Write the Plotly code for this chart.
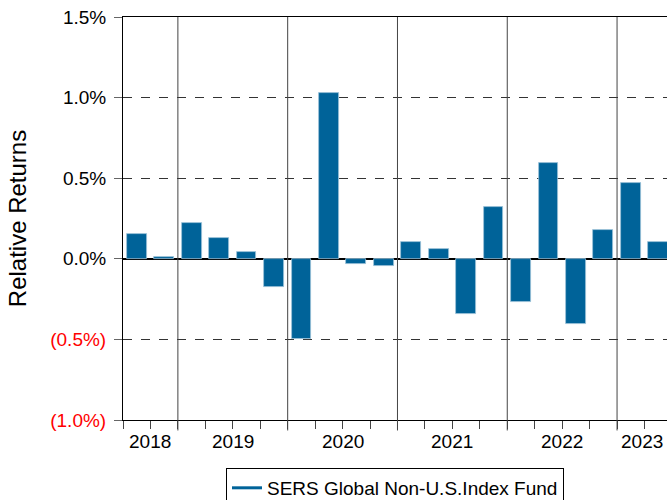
import plotly.graph_objects as go

# ---- data ----
quarters = ["2018Q3", "2018Q4",
            "2019Q1", "2019Q2", "2019Q3", "2019Q4",
            "2020Q1", "2020Q2", "2020Q3", "2020Q4",
            "2021Q1", "2021Q2", "2021Q3", "2021Q4",
            "2022Q1", "2022Q2", "2022Q3", "2022Q4",
            "2023Q1", "2023Q2"]
relative_returns = [0.151, 0.012,
                    0.223, 0.128, 0.042, -0.172,
                    -0.500, 1.030, -0.030, -0.045,
                    0.107, 0.060, -0.343, 0.320,
                    -0.267, 0.595, -0.405, 0.178,
                    0.473, 0.104]
series_name = "SERS Global Non-U.S.Index Fund"
y_tickvals = [-1.0, -0.5, 0.0, 0.5, 1.0, 1.5]
y_ticktext = ["(1.0%)", "(0.5%)", "0.0%", "0.5%", "1.0%", "1.5%"]

BLUE = "#006399"
FONT = "Liberation Sans, Arial, sans-serif"

x_pos = [i + 0.5 for i in range(len(quarters))]
x_max = 19.82

# year groups
years = []
for q in quarters:
    y = q[:4]
    if y not in years:
        years.append(y)
year_labels_x = []
for y in years:
    idx = [i for i, q in enumerate(quarters) if q.startswith(y)]
    lo = idx[0]
    hi = idx[-1] + 1
    if y == years[-1]:
        hi = x_max
    year_labels_x.append((lo + hi) / 2)
year_bounds = [i for i in range(1, len(quarters)) if quarters[i][:4] != quarters[i - 1][:4]]

fig = go.Figure()
fig.add_trace(go.Bar(
    x=x_pos, y=relative_returns, width=0.72,
    marker=dict(color=BLUE, line=dict(color="#9cc2d8", width=0.8)),
    showlegend=False, name=series_name,
))
fig.add_trace(go.Scatter(
    x=[None], y=[None], mode="lines", name=series_name,
    line=dict(color=BLUE, width=3),
))

shapes = []
for b in year_bounds:
    shapes.append(dict(type="line", xref="x", yref="paper", x0=b, x1=b,
                       y0=-0.026, y1=1, line=dict(color="#444444", width=1), layer="above"))

annotations = []
for y, xl in zip(years, year_labels_x):
    annotations.append(dict(x=xl, y=-0.022, xref="x", yref="paper", text=y,
                            showarrow=False, yanchor="top",
                            font=dict(size=19, color="black", family=FONT)))

colored_ticktext = []
for v, t in zip(y_tickvals, y_ticktext):
    if v < 0:
        colored_ticktext.append(f"<span style='color:#ff0000'>{t}</span>")
    else:
        colored_ticktext.append(t)

fig.update_layout(
    width=667, height=500,
    margin=dict(l=123, r=0, t=17, b=80, autoexpand=False),
    paper_bgcolor="white", plot_bgcolor="white",
    font=dict(family=FONT, size=19, color="black"),
    bargap=0,
    xaxis=dict(
        range=[0, x_max],
        tickmode="array", tickvals=list(range(0, 20)),
        ticktext=[""] * 20,
        ticks="outside", ticklen=8, tickcolor="#444444", tickwidth=1,
        showgrid=False, zeroline=False,
        showline=True, linecolor="black", linewidth=1,
        mirror=True,
    ),
    yaxis=dict(
        range=[-1.0, 1.5],
        tickmode="array", tickvals=y_tickvals, ticktext=colored_ticktext,
        ticks="outside", ticklen=8, tickcolor="#666666", tickwidth=1,
        ticklabelstandoff=4, ticklabeloverflow="allow",
        tickfont=dict(size=19, family=FONT),
        showgrid=True, gridcolor="#333333", griddash="dash", gridwidth=1,
        zeroline=True, zerolinecolor="black", zerolinewidth=2,
        showline=True, linecolor="black", linewidth=1,
        title=dict(text="Relative Returns", font=dict(size=24, family=FONT), standoff=16),
    ),
    legend=dict(
        orientation="h", x=0.5, xanchor="center", y=-0.119, yanchor="top",
        bordercolor="black", borderwidth=1,
        font=dict(size=19, family=FONT),
    ),
    shapes=shapes,
    annotations=annotations,
)

fig.write_html(
    "out.html",
    config={"displayModeBar": False},
    post_script="document.body.style.margin='0';document.body.style.overflow='hidden';",
)
